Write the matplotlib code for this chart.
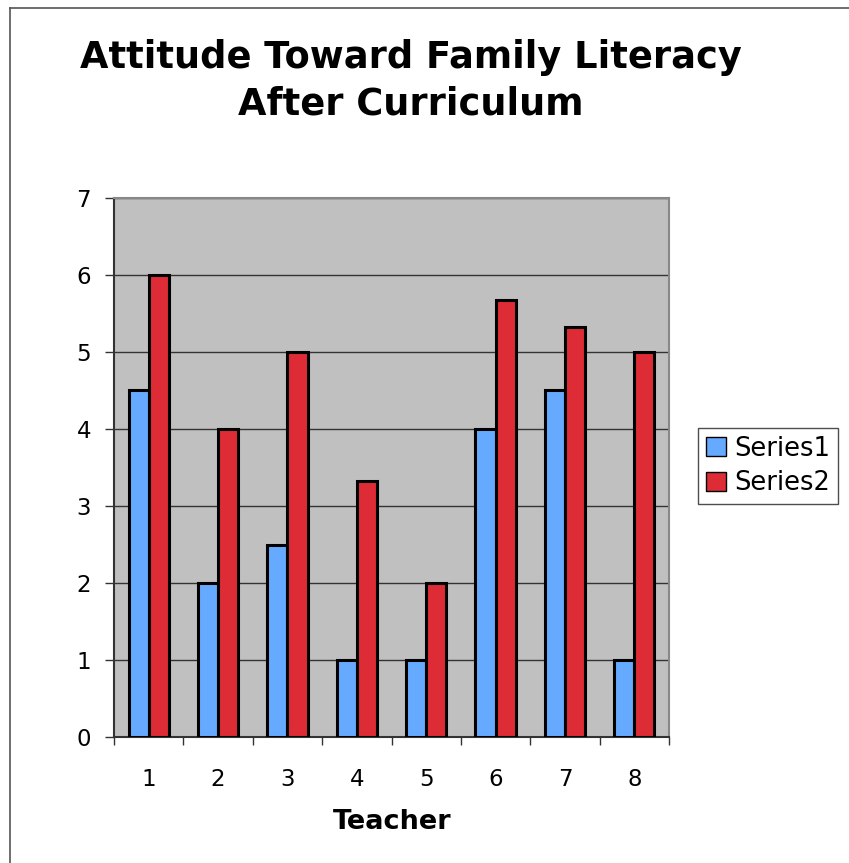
import matplotlib
matplotlib.use("Agg")
import matplotlib.pyplot as plt
import numpy as np
from matplotlib.lines import Line2D

teachers = ["1", "2", "3", "4", "5", "6", "7", "8"]
series1 = [4.5, 2, 2.5, 1, 1, 4, 4.5, 1]
series2 = [6, 4, 5, 3.33, 2, 5.67, 5.33, 5]
yticks = [0, 1, 2, 3, 4, 5, 6, 7]

plt.rcParams['font.family'] = ['DejaVu Sans']

W, H = 849, 863
fig = plt.figure(figsize=(W / 100, H / 100), dpi=100)
ax = fig.add_axes([114 / W, 1 - 737 / H, (669 - 114) / W, (737 - 198) / H])
ax.set_facecolor('#C0C0C0')

x = np.arange(len(teachers))
bw = 0.29
ax.bar(x - bw / 2, series1, bw, color='#66AAFF', edgecolor='black', linewidth=2.2, label='Series1', zorder=3)
ax.bar(x + bw / 2, series2, bw, color='#DD2C35', edgecolor='black', linewidth=2.2, label='Series2', zorder=3)

ax.set_xlim(-0.5, len(teachers) - 0.5)
ax.set_ylim(0, 7)
ax.set_yticks(yticks)
ax.set_yticklabels([str(v) for v in yticks], fontsize=16.5)
ax.yaxis.grid(True, color='#333333', linewidth=1, zorder=1)
ax.set_axisbelow(True)

ax.set_xticks(x)
ax.set_xticklabels(teachers, fontsize=16.5)
ax.tick_params(axis='x', which='major', length=0, pad=22)
ax.set_xticks(np.arange(-0.5, len(teachers)), minor=True)
ax.tick_params(axis='x', which='minor', length=6, width=1, color='#333333', direction='out')
ax.tick_params(axis='y', length=6.5, width=1, color='#333333', pad=10)

for s in ['top', 'right']:
    ax.spines[s].set_color('#888888')
    ax.spines[s].set_linewidth(1.5)
for s in ['left', 'bottom']:
    ax.spines[s].set_color('#333333')
    ax.spines[s].set_linewidth(1.5)

fig.text(392 / W, 1 - 822 / H, 'Teacher', ha='center', va='center', fontsize=19.5, fontweight='bold')

fig.text(411 / W, 1 - 57 / H, 'Attitude Toward Family Literacy',
         ha='center', va='center', fontsize=26.5, fontweight='bold')
fig.text(411 / W, 1 - 104 / H, 'After Curriculum',
         ha='center', va='center', fontsize=26.5, fontweight='bold')

leg = fig.legend(loc='center left', bbox_to_anchor=(698 / W, 1 - 466 / H), fontsize=18.5,
                 frameon=True, fancybox=False, edgecolor='#222222', handlelength=0.8,
                 handleheight=0.8, handletextpad=0.3, borderpad=0.3, labelspacing=0.35,
                 borderaxespad=0)
leg.get_frame().set_linewidth(1)
for p in leg.get_patches():
    p.set_linewidth(1)

# outer border (left and top visible)
fig.add_artist(Line2D([10 / W, 10 / W], [0, 1 - 8 / H], color='#555555', lw=1.2, transform=fig.transFigure))
fig.add_artist(Line2D([10 / W, 1], [1 - 8 / H, 1 - 8 / H], color='#555555', lw=1.2, transform=fig.transFigure))

fig.savefig('out.png', dpi=100)
